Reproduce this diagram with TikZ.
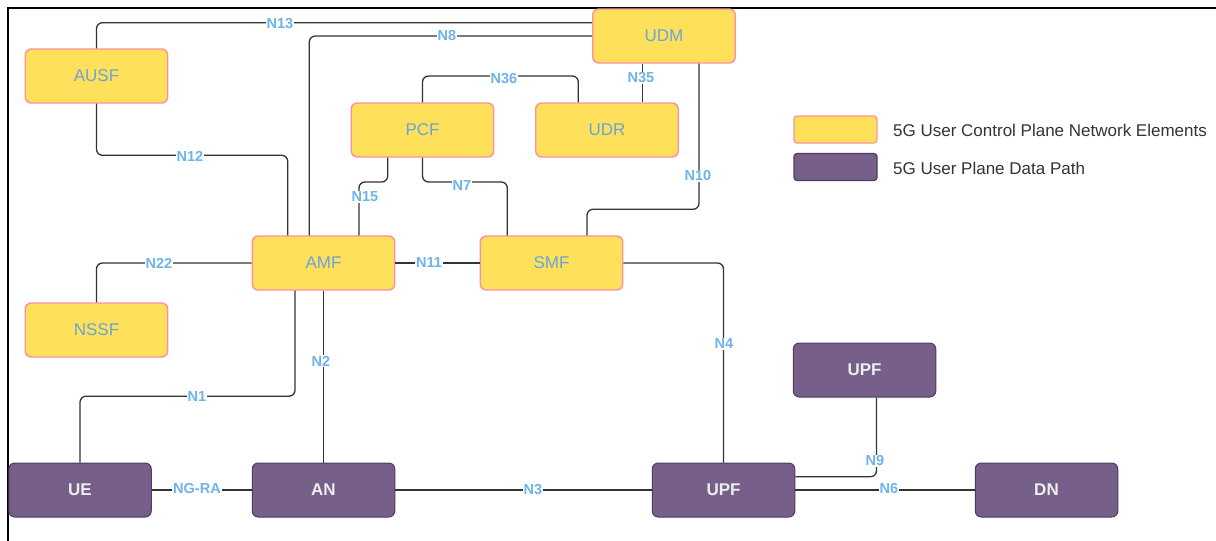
\documentclass[tikz,border=0pt]{standalone}
\usepackage{fontspec}
\setmainfont{Liberation Sans}
\usetikzlibrary{calc}

\definecolor{cpfill}{HTML}{FFE05B}
\definecolor{cpline}{HTML}{FF8FA3}
\definecolor{cptext}{HTML}{6AA4D8}
\definecolor{upfill}{HTML}{76608A}
\definecolor{upline}{HTML}{4F3B63}
\definecolor{uptext}{HTML}{EDEDED}
\definecolor{lblblue}{HTML}{6FB3EB}
\definecolor{wire}{HTML}{333333}
\definecolor{legtext}{HTML}{333333}

\tikzset{
  cpbox/.style={draw=cpline, fill=cpfill, line width=1.4pt, rounded corners=6pt,
    minimum width=142.5pt, minimum height=54pt, inner sep=0pt,
    text=cptext, font=\fontsize{17}{20}\selectfont},
  upbox/.style={draw=upline, fill=upfill, line width=1pt, rounded corners=6pt,
    minimum width=142.5pt, minimum height=54pt, inner sep=0pt,
    text=uptext, font=\fontsize{17}{20}\selectfont\bfseries},
  conn/.style={draw=wire, line width=1.3pt, rounded corners=6pt},
  lbl/.style={fill=white, inner sep=1pt, text=lblblue,
    font=\fontsize{14.5}{17}\selectfont\bfseries},
  legbox/.style={line width=1.2pt, rounded corners=3pt, minimum width=83pt,
    minimum height=27pt, inner sep=0pt},
  legtxt/.style={anchor=west, text=legtext, inner sep=0pt,
    font=\fontsize{17}{20}\selectfont},
}

\begin{document}
\begin{tikzpicture}[x=1pt, y=-1pt]
\useasboundingbox (0,0) rectangle (1216,541);

% frame
\draw[line width=2pt] (7.5,541) -- (7.5,7.5) -- (1216,7.5);

% control plane functions
\node[cpbox] (ausf) at (96.5,76)  {AUSF};
\node[cpbox] (udm)  at (664,36)   {UDM};
\node[cpbox] (pcf)  at (422.5,130) {PCF};
\node[cpbox] (udr)  at (607,130)  {UDR};
\node[cpbox] (amf)  at (323.5,263) {AMF};
\node[cpbox] (smf)  at (551.5,263) {SMF};
\node[cpbox] (nssf) at (96.5,330) {NSSF};

% user plane
\node[upbox] (ue)   at (80,490)    {UE};
\node[upbox] (an)   at (323.5,490) {AN};
\node[upbox] (upf)  at (723.5,490) {UPF};
\node[upbox] (upfb) at (864.5,370) {UPF};
\node[upbox] (dn)   at (1046.5,490) {DN};

% legend
\node[legbox, draw=cpline, fill=cpfill] (legcp) at (835.5,129.5) {};
\node[legbox, draw=upline, fill=upfill] (legup) at (835.5,167) {};
\node[legtxt] (legcpt) at (893,130) {5G User Control Plane Network Elements};
\node[legtxt] (legupt) at (893,168) {5G User Plane Data Path};

% interfaces
\draw[conn] (ausf.north) |- ($(udm.west)+(0,-13.3)$);
\draw[conn] ($(amf.north)+(-14.2,0)$) |- (udm.west);
\draw[conn] (ausf.south) |- ($(amf.north)+(-35.8,-80)$) -- ($(amf.north)+(-35.8,0)$);
\draw[conn] ($(pcf.south)+(-34.8,0)$) |- ($(amf.north)+(35.5,-53.3)$) -- ($(amf.north)+(35.5,0)$);
\draw[conn] (pcf.south) |- ($(smf.north)+(-44.2,-53.3)$) -- ($(smf.north)+(-44.2,0)$);
\draw[conn] ($(udm.south)+(35,0)$) |- ($(smf.north)+(35.5,-26)$) -- ($(smf.north)+(35.5,0)$);
\draw[conn] (pcf.north) |- ($(udr.north)+(-28.7,-26.3)$) -- ($(udr.north)+(-28.7,0)$);
\draw[conn] ($(udm.south)+(-21.7,0)$) -- ($(udr.north)+(35.3,0)$);
\draw[conn] (amf.west) -| (nssf.north);
\draw[conn] (amf) -- (smf);
\draw[conn] (amf.south) -- (an.north);
\draw[conn] ($(amf.south)+(-28.5,0)$) |- ($(ue.north)+(0,-66.3)$) -- (ue.north);
\draw[conn] (ue) -- (an);
\draw[conn] (an) -- (upf);
\draw[conn] (smf.east) -| (upf.north);
\draw[conn] ($(upfb.south)+(12,0)$) |- ($(upf.east)+(0,-13.3)$);
\draw[conn] (upf) -- (dn);

% interface names
\node[lbl] (l13) at (280,24)  {N13};
\node[lbl] (l8)  at (447,36)  {N8};
\node[lbl] (l12) at (190,156) {N12};
\node[lbl] (l15) at (365,197) {N15};
\node[lbl] (l7)  at (462,186) {N7};
\node[lbl] (l36) at (504,79)  {N36};
\node[lbl] (l35) at (641,78)  {N35};
\node[lbl] (l10) at (698,176) {N10};
\node[lbl] (l22) at (159,263) {N22};
\node[lbl] (l11) at (429,263) {N11};
\node[lbl] (l2)  at (321,361) {N2};
\node[lbl] (l1)  at (197,397) {N1};
\node[lbl] (lng) at (197,489) {NG-RA};
\node[lbl] (l3)  at (533,490) {N3};
\node[lbl] (l4)  at (724,344) {N4};
\node[lbl] (l9)  at (875,461) {N9};
\node[lbl] (l6)  at (889,489) {N6};
\end{tikzpicture}
\end{document}
